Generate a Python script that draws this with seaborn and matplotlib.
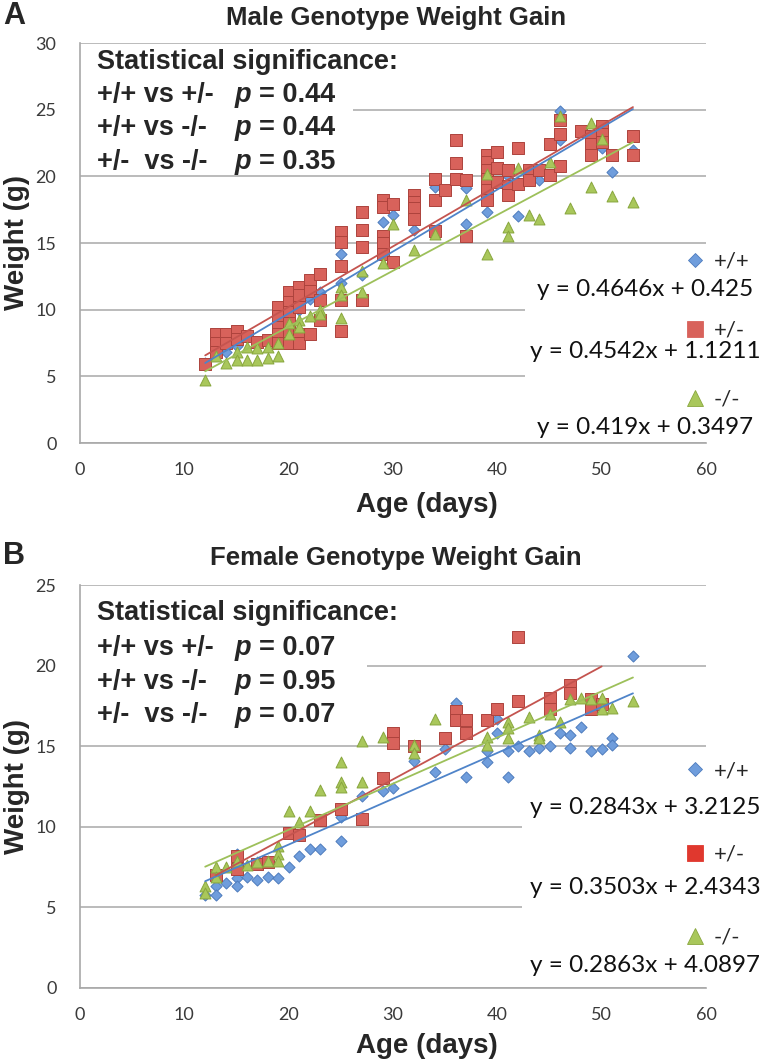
import numpy as np
import pandas as pd
import seaborn as sns
import matplotlib.pyplot as plt
from matplotlib.patches import Rectangle
from matplotlib.lines import Line2D
from matplotlib import font_manager

# ---- values: (age in days, weight in g) ----
genotypes = ['+/+', '+/-', '-/-']

male_wt = [(12, 6.0), (13, 7.0), (14, 6.8), (15, 7.3), (17, 7.4), (19, 8.5), (20, 9.5),
           (21, 10.0), (22, 10.8), (23, 11.3), (25, 14.2), (25, 12.0), (27, 12.6),
           (29, 16.6), (30, 17.1), (32, 16.0), (34, 19.2), (37, 19.1), (37, 16.4),
           (39, 17.3), (41, 20.0), (42, 17.0), (44, 19.7), (46, 24.9), (46, 22.7),
           (50, 22.1), (51, 20.3), (53, 22.0)]
male_het = [(12, 5.9), (13, 8.2), (13, 7.5), (13, 6.8), (14, 8.2), (14, 7.5), (15, 8.4),
            (15, 7.8), (16, 8.0), (17, 7.6), (18, 7.7), (19, 10.2), (19, 9.5), (19, 8.7),
            (19, 8.2), (19, 7.5), (20, 11.3), (20, 10.6), (20, 9.8), (20, 9.0), (20, 8.2),
            (20, 7.5), (21, 11.7), (21, 11.1), (21, 10.2), (21, 8.2), (21, 7.5), (22, 12.2),
            (22, 11.4), (22, 8.2), (23, 12.7), (23, 10.7), (23, 9.2), (25, 15.8), (25, 15.1),
            (25, 13.3), (25, 10.7), (25, 8.4), (27, 17.3), (27, 16.0), (27, 14.7), (27, 10.7),
            (29, 18.2), (29, 17.7), (29, 15.5), (29, 15.0), (29, 14.2), (30, 17.9), (30, 13.6),
            (32, 18.6), (32, 18.1), (32, 17.6), (32, 16.8), (34, 19.8), (34, 18.2), (34, 15.9),
            (35, 19.0), (36, 22.7), (36, 21.0), (36, 19.8), (37, 19.7), (37, 15.5), (39, 21.6),
            (39, 21.1), (39, 20.5), (39, 19.8), (39, 19.0), (39, 18.2), (40, 21.8), (40, 20.6),
            (40, 19.6), (41, 20.5), (41, 19.3), (41, 18.6), (42, 22.1), (42, 19.4), (43, 20.5),
            (43, 19.7), (44, 20.5), (45, 22.4), (45, 20.1), (46, 24.2), (46, 23.2), (46, 20.8),
            (48, 23.4), (49, 23.0), (49, 22.4), (49, 21.6), (50, 23.8), (50, 23.2), (50, 22.6),
            (51, 21.6), (53, 23.0), (53, 21.6)]
male_ko = [(12, 4.7), (13, 6.5), (14, 6.0), (15, 6.8), (15, 6.2), (16, 7.2), (16, 6.2),
           (17, 7.1), (17, 6.2), (18, 7.2), (18, 6.4), (19, 7.5), (19, 6.5), (20, 9.0),
           (20, 8.2), (21, 9.2), (21, 8.7), (22, 9.5), (23, 10.0), (23, 9.7), (25, 11.7),
           (25, 11.1), (25, 9.4), (27, 12.9), (27, 11.3), (29, 13.5), (30, 16.4), (32, 14.5),
           (34, 15.7), (37, 18.2), (39, 20.2), (39, 14.2), (41, 16.2), (41, 15.5), (42, 20.6),
           (43, 17.1), (44, 16.8), (45, 21.1), (46, 24.5), (47, 17.6), (49, 24.0), (49, 19.2),
           (50, 22.8), (51, 18.5), (53, 18.1)]

female_wt = [(12, 5.8), (13, 6.3), (13, 5.8), (14, 6.5), (15, 6.8), (15, 6.3), (15, 8.3),
             (16, 6.9), (17, 6.7), (18, 6.9), (19, 6.8), (20, 7.5), (21, 8.2), (22, 8.6),
             (23, 8.6), (25, 9.1), (25, 10.6), (27, 11.9), (29, 12.2), (30, 12.4), (32, 14.1),
             (34, 13.4), (35, 14.8), (36, 17.7), (36, 16.6), (37, 13.1), (39, 14.7), (39, 14.0),
             (40, 16.7), (40, 15.8), (41, 14.7), (41, 13.1), (42, 15.0), (43, 14.7), (44, 14.9),
             (45, 15.0), (46, 15.8), (47, 15.7), (47, 14.9), (48, 16.2), (49, 14.7), (50, 14.8),
             (51, 15.5), (51, 15.1), (53, 20.6)]
female_het = [(13, 7.0), (15, 8.2), (15, 7.4), (17, 7.7), (18, 7.8), (20, 9.6), (21, 9.5),
              (23, 10.4), (25, 11.1), (27, 10.5), (29, 13.0), (30, 15.8), (30, 15.2), (32, 15.0),
              (35, 15.5), (36, 17.2), (36, 16.6), (37, 16.6), (37, 15.8), (39, 16.6), (40, 17.3),
              (42, 21.8), (42, 17.8), (45, 18.0), (45, 17.3), (47, 18.8), (47, 18.3), (49, 17.9),
              (49, 17.3), (50, 17.6)]
female_ko = [(12, 6.3), (12, 5.9), (13, 7.5), (13, 6.9), (14, 7.5), (15, 7.9), (16, 7.6),
             (17, 7.8), (18, 7.9), (19, 8.8), (19, 8.3), (19, 7.9), (20, 11.0), (21, 10.3),
             (22, 11.0), (23, 12.3), (25, 14.0), (25, 12.8), (25, 12.5), (27, 15.3), (27, 12.8),
             (29, 15.6), (32, 15.1), (32, 14.6), (34, 16.7), (39, 15.6), (39, 15.1), (41, 16.5),
             (41, 16.1), (41, 15.5), (43, 16.8), (44, 15.7), (44, 15.5), (45, 17.0), (46, 16.5),
             (47, 17.9), (48, 18.0), (49, 17.9), (50, 18.0), (50, 17.3), (51, 17.4), (53, 17.8)]

# trendline equations shown in the legend
male_slope = [0.4646, 0.4542, 0.419]
male_icpt = [0.425, 1.1211, 0.3497]
female_slope = [0.2843, 0.3503, 0.2863]
female_icpt = [3.2125, 2.4343, 4.0897]

comparisons = ['+/+ vs +/-', '+/+ vs -/-', '+/-  vs -/-']
male_p = ['0.44', '0.44', '0.35']
female_p = ['0.07', '0.95', '0.07']

# ---- style ----
sns.set_style("white")
names = {f.name for f in font_manager.fontManager.ttflist}
BOLD = 'Liberation Sans'
NARROW = 'Liberation Sans Narrow' if 'Liberation Sans Narrow' in names else 'Liberation Sans'
plt.rcParams['font.family'] = ['Lato', 'DejaVu Sans']

markers = {'+/+': 'D', '+/-': 's', '-/-': '^'}
sizes = {'+/+': 32, '+/-': 82, '-/-': 62}
fills = {'+/+': '#6f9ddc', '+/-': '#d8625b', '-/-': '#a9c75b'}
edges = {'+/+': '#4d7bbd', '+/-': '#ad433d', '-/-': '#88a63d'}
lines = {'+/+': '#4f84c9', '+/-': '#c4544f', '-/-': '#9dc05a'}
leg_ms = {'+/+': 7.5, '+/-': 12, '-/-': 11}

W, H = 775, 1064
X_RIGHT = 706   # pixel of x = 60


def fx(x):
    return x / W


def fy(y):
    return 1 - y / H


fig = plt.figure(figsize=(W / 100, H / 100), dpi=100)


def panel(ax, groups, slopes, icpts, ymax, pvals, y_mid, leg_top, eq_rows, leg_sp,
          box_leg, box_stat, stat_rows, letter, title, title_y, xlab_y, leg_red):
    for g, pts in zip(genotypes, groups):
        d = pd.DataFrame(pts, columns=['age', 'weight'])
        sns.scatterplot(data=d, x='age', y='weight', marker=markers[g], s=sizes[g],
                        color=fills[g], edgecolor=edges[g], linewidth=0.7, ax=ax,
                        zorder=3, legend=False)
    for g, pts, m, b in zip(genotypes, groups, slopes, icpts):
        a = np.array([p[0] for p in pts])
        xs = np.array([a.min(), a.max()])
        sns.lineplot(x=xs, y=m * xs + b, color=lines[g], lw=1.3, ax=ax, zorder=4)

    ax.set_xlim(0, 60)
    ax.set_ylim(0, ymax)
    ax.set_xticks(range(0, 61, 10))
    ax.set_yticks(range(0, ymax + 1, 5))
    ax.set_axisbelow(True)
    ax.grid(axis='y', color='#b5b5b5', lw=1.3)
    ax.grid(axis='x', visible=False)
    for s in ['top', 'right']:
        ax.spines[s].set_visible(False)
    for s in ['left', 'bottom']:
        ax.spines[s].set_color('#a8a8a8')
        ax.spines[s].set_linewidth(1.2)
    ax.tick_params(axis='both', direction='out', length=5, color='#a8a8a8', width=1.1,
                   labelsize=13, labelcolor='#3a3a3a')
    ax.tick_params(axis='x', pad=9)
    ax.tick_params(axis='y', pad=12)

    ax.set_xlabel('Age (days)', family=NARROW, fontweight='bold', fontsize=20, va='center')
    ax.set_ylabel('Weight (g)', family=NARROW, fontweight='bold', fontsize=20, va='center')
    ax.xaxis.set_label_coords(fx(427), fy(xlab_y), transform=fig.transFigure)
    ax.yaxis.set_label_coords(fx(17), fy(y_mid), transform=fig.transFigure)

    # white boxes that hide the gridlines behind the text blocks
    for (x0, y0, x1, y1) in [box_leg, box_stat]:
        ax.add_patch(Rectangle((fx(x0), fy(y1)), (x1 - x0) / W, (y1 - y0) / H,
                               transform=fig.transFigure, facecolor='white',
                               edgecolor='none', zorder=1, clip_on=False))

    # legend: marker + genotype, equation underneath
    handles = []
    for g in genotypes:
        fc = leg_red if g == '+/-' else fills[g]
        handles.append(Line2D([], [], ls='none', marker=markers[g], ms=leg_ms[g],
                              mfc=fc, mec=edges[g] if g != '+/-' else fc, mew=0.6))
    ax.legend(handles, genotypes, loc='upper left', bbox_to_anchor=(fx(686), fy(leg_top)),
              bbox_transform=fig.transFigure, frameon=False, handlelength=0.8,
              handletextpad=0.45, borderpad=0, borderaxespad=0, labelspacing=leg_sp,
              fontsize=16)
    for m, b, yy in zip(slopes, icpts, eq_rows):
        fig.text(fx(645), fy(yy), f'y = {m}x + {b}', ha='center', va='center',
                 fontsize=17.5, color='#111111')

    # significance block
    fs = 19.5
    fig.text(fx(97), fy(stat_rows[0]), 'Statistical significance:', family=BOLD,
             fontweight='bold', fontsize=fs, va='center')
    for c, p, yy in zip(comparisons, pvals, stat_rows[1:]):
        fig.text(fx(97), fy(yy), c, family=BOLD, fontweight='bold', fontsize=fs, va='center')
        fig.text(fx(235), fy(yy), 'p', family=BOLD, fontweight='bold', style='italic',
                 fontsize=fs, va='center')
        fig.text(fx(259), fy(yy), f'= {p}', family=BOLD, fontweight='bold', fontsize=fs,
                 va='center')

    fig.text(fx(14), fy(title_y - 2), letter, family=BOLD, fontweight='bold', fontsize=22,
             ha='center', va='center')
    fig.text(fx(396), fy(title_y), title, family=BOLD, fontweight='bold', fontsize=18.5,
             ha='center', va='center')


ax1 = fig.add_axes([fx(80), fy(443), (X_RIGHT - 80) / W, 400 / H])
panel(ax1, [male_wt, male_het, male_ko], male_slope, male_icpt, 30, male_p,
      y_mid=243, leg_top=252, eq_rows=[290, 352, 427], leg_sp=2.2,
      box_leg=(525, 250, 775, 440), box_stat=(80, 48, 353, 172),
      stat_rows=[62, 95, 128, 162], letter='A', title='Male Genotype Weight Gain',
      title_y=18, xlab_y=505, leg_red=fills['+/-'])

ax2 = fig.add_axes([fx(80), fy(988), (X_RIGHT - 80) / W, 403 / H])
panel(ax2, [female_wt, female_het, female_ko], female_slope, female_icpt, 25, female_p,
      y_mid=787, leg_top=761, eq_rows=[808, 888, 965], leg_sp=2.85,
      box_leg=(522, 755, 775, 985), box_stat=(80, 597, 367, 730),
      stat_rows=[613, 648, 682, 715], letter='B', title='Female Genotype Weight Gain',
      title_y=558, xlab_y=1046, leg_red='#e0382e')

fig.savefig('out.png', dpi=100)
